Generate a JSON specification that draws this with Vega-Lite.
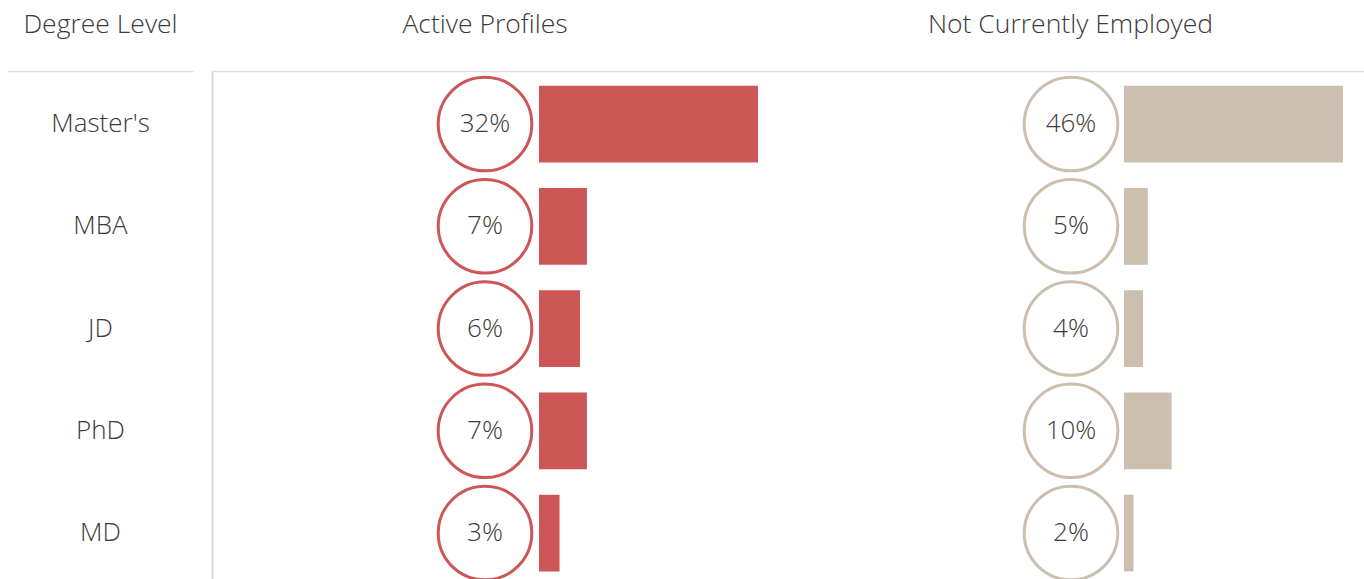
{
  "$schema": "https://vega.github.io/schema/vega-lite/v6.json",
  "padding": {"left": 8, "top": 11, "right": 0, "bottom": 0},
  "config": {
    "view": {"stroke": null},
    "font": "Open Sans",
    "title": {"fontSize": 26.5, "fontWeight": 300, "color": "#3a3a3a", "offset": 33, "font": "Open Sans"},
    "axis": {"domainColor": "#dcdcdc", "grid": false, "ticks": false, "labels": false, "title": null}
  },
  "data": {"values": [
    {"degree": "Master's", "active": 0.32, "nce": 0.46},
    {"degree": "MBA", "active": 0.07, "nce": 0.05},
    {"degree": "JD", "active": 0.06, "nce": 0.04},
    {"degree": "PhD", "active": 0.07, "nce": 0.10},
    {"degree": "MD", "active": 0.03, "nce": 0.02}
  ]},
  "spacing": 19,
  "bounds": "flush",
  "resolve": {"scale": {"x": "independent", "y": "independent"}},
  "hconcat": [
    {
      "width": 185,
      "height": 508,
      "title": {"text": "Degree Level"},
      "mark": {"type": "text", "fontSize": 26, "fontWeight": 300, "color": "#3a3a3a", "font": "Open Sans"},
      "encoding": {
        "y": {"field": "degree", "type": "nominal", "sort": null, "scale": {"type": "band", "paddingInner": 0.25, "paddingOuter": 0.109, "align": 0.66}, "axis": null},
        "x": {"datum": 0, "type": "quantitative", "scale": {"domain": [-1, 1], "nice": false}, "axis": {"orient": "top", "domain": true, "domainWidth": 1.5}},
        "text": {"field": "degree"}
      }
    },
    {
      "spacing": 0,
      "bounds": "flush",
      "resolve": {"scale": {"x": "independent", "y": "independent"}},
      "hconcat": [
        {
          "width": 546,
          "height": 508,
          "title": {"text": "Active Profiles"},
          "encoding": {
            "y": {"field": "degree", "type": "nominal", "sort": null, "scale": {"type": "band", "paddingInner": 0.25, "paddingOuter": 0.109, "align": 0.66}, "axis": {"orient": "left", "domain": true, "domainWidth": 2}}
          },
          "layer": [
            {
              "mark": {"type": "bar", "color": "#CD5656"},
              "encoding": {
                "x": {"field": "active", "type": "quantitative", "scale": {"domain": [-0.47781, 0.32], "nice": false, "zero": false}, "axis": {"orient": "top", "domain": true, "domainWidth": 1.5}}
              }
            },
            {
              "mark": {"type": "point", "shape": "circle", "size": 8760, "fill": "white", "stroke": "#CD5656", "strokeWidth": 3, "opacity": 1},
              "encoding": {"x": {"datum": -0.07891, "type": "quantitative"}}
            },
            {
              "mark": {"type": "text", "fontSize": 26, "fontWeight": 300, "color": "#3a3a3a", "font": "Open Sans"},
              "encoding": {
                "x": {"datum": -0.07891, "type": "quantitative"},
                "text": {"field": "active", "type": "quantitative", "format": ".0%"}
              }
            }
          ]
        },
        {
          "width": 606,
          "height": 508,
          "title": {"text": "Not Currently Employed", "dx": 9.5},
          "encoding": {
            "y": {"field": "degree", "type": "nominal", "sort": null, "scale": {"type": "band", "paddingInner": 0.25, "paddingOuter": 0.109, "align": 0.66}, "axis": null}
          },
          "layer": [
            {
              "mark": {"type": "bar", "color": "#CCBFB0"},
              "encoding": {
                "x": {"field": "nce", "type": "quantitative", "scale": {"domain": [-0.76877, 0.5041], "nice": false, "zero": false}, "axis": {"orient": "top", "domain": true, "domainWidth": 1.5}}
              }
            },
            {
              "mark": {"type": "point", "shape": "circle", "size": 8760, "fill": "white", "stroke": "#CCBFB0", "strokeWidth": 3, "opacity": 1},
              "encoding": {"x": {"datum": -0.11133, "type": "quantitative"}}
            },
            {
              "mark": {"type": "text", "fontSize": 26, "fontWeight": 300, "color": "#3a3a3a", "font": "Open Sans"},
              "encoding": {
                "x": {"datum": -0.11133, "type": "quantitative"},
                "text": {"field": "nce", "type": "quantitative", "format": ".0%"}
              }
            }
          ]
        }
      ]
    }
  ]
}
